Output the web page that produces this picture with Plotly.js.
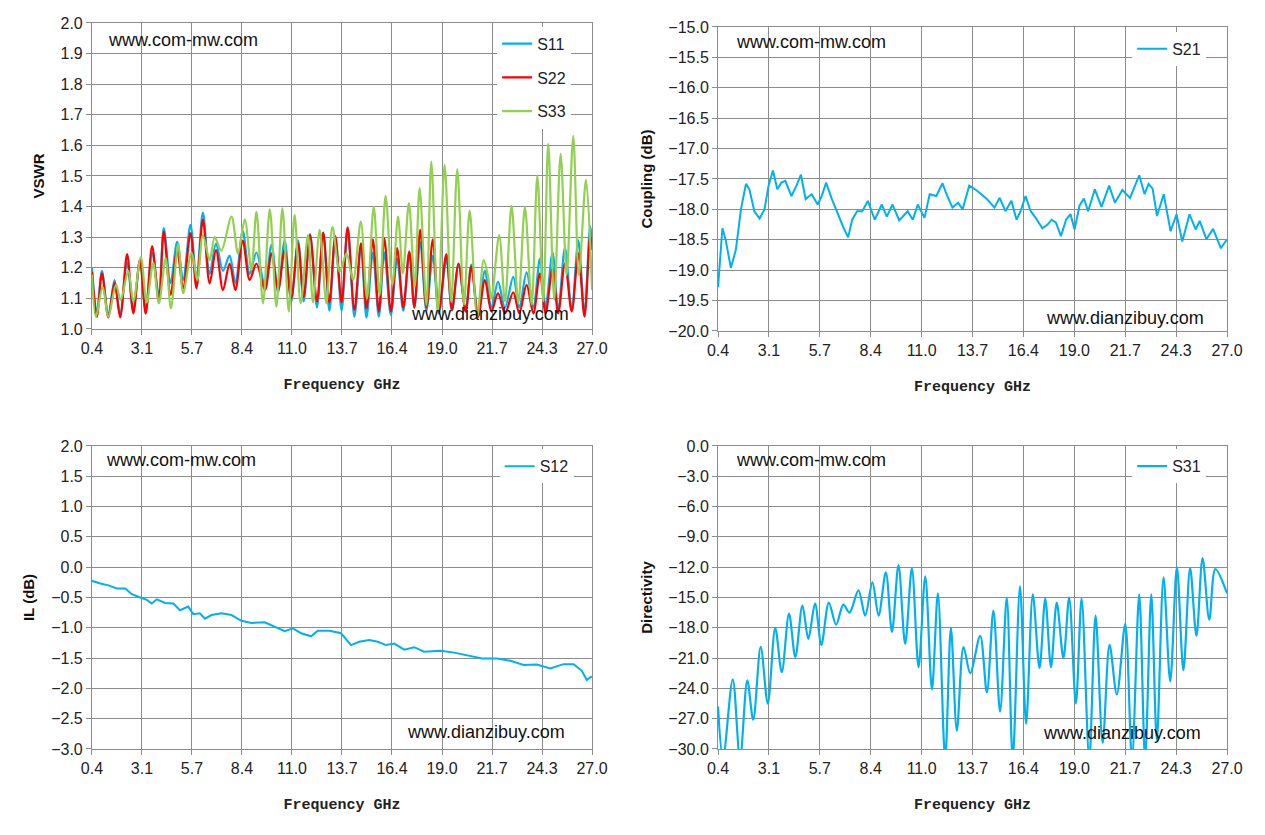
<!DOCTYPE html>
<html>
<head>
<meta charset="utf-8">
<script src="https://cdn.plot.ly/plotly-3.0.1.min.js"></script>
<style>body{margin:0;background:#fff}#chart{width:1265px;height:835px}</style>
</head>
<body>
<div id="chart"></div>
<script>
// ---- data ----
const freqTicks = [0.4, 3.06, 5.72, 8.38, 11.04, 13.7, 16.36, 19.02, 21.68, 24.34, 27.0];
const freqTickText = ['0.4', '3.1', '5.7', '8.4', '11.0', '13.7', '16.4', '19.0', '21.7', '24.3', '27.0'];

// S22 / S11 share the frequency points
const fS22 = [0.4,0.66,0.93,1.27,1.6,1.9,2.27,2.6,2.95,3.26,3.6,3.96,4.22,4.58,4.93,5.25,5.64,5.96,6.3,6.66,7.0,7.37,7.72,8.03,8.42,8.79,9.15,9.6,9.95,10.3,10.65,11.0,11.36,11.66,12.0,12.37,12.7,13.03,13.34,13.68,14.0,14.36,14.71,15.0,15.34,15.66,15.95,16.3,16.63,16.96,17.28,17.55,17.86,18.19,18.53,18.85,19.25,19.55,19.9,20.28,20.58,20.94,21.3,21.65,22.0,22.37,22.81,23.13,23.52,23.88,24.23,24.53,24.9,25.2,25.56,25.92,26.27,26.6,26.9,27.0];
const vS22 = [1.187,1.04,1.182,1.038,1.151,1.038,1.245,1.051,1.225,1.05,1.271,1.09,1.318,1.111,1.258,1.133,1.313,1.133,1.358,1.149,1.258,1.127,1.214,1.127,1.289,1.16,1.214,1.127,1.247,1.127,1.258,1.10,1.28,1.104,1.307,1.09,1.315,1.087,1.304,1.087,1.332,1.062,1.28,1.067,1.293,1.057,1.296,1.057,1.264,1.07,1.253,1.07,1.324,1.07,1.293,1.057,1.245,1.062,1.214,1.057,1.204,1.04,1.16,1.057,1.117,1.051,1.12,1.051,1.144,1.051,1.182,1.051,1.198,1.051,1.214,1.057,1.247,1.04,1.307,1.258];
const vS11 = [1.20,1.05,1.19,1.045,1.16,1.05,1.218,1.06,1.225,1.06,1.25,1.11,1.33,1.15,1.285,1.16,1.34,1.16,1.38,1.18,1.28,1.19,1.24,1.15,1.32,1.18,1.25,1.14,1.275,1.12,1.29,1.09,1.29,1.09,1.31,1.07,1.315,1.06,1.30,1.06,1.33,1.04,1.27,1.037,1.25,1.04,1.25,1.045,1.23,1.06,1.25,1.07,1.285,1.06,1.24,1.05,1.23,1.06,1.21,1.06,1.21,1.05,1.19,1.07,1.155,1.07,1.17,1.07,1.185,1.07,1.23,1.07,1.25,1.06,1.265,1.06,1.29,1.05,1.335,1.29];

const fS33 = [0.4,0.61,0.97,1.27,1.68,1.93,2.33,2.6,3.0,3.31,3.66,3.96,4.32,4.6,4.99,5.25,5.7,6.0,6.3,6.66,6.93,7.28,7.82,8.17,8.53,8.88,9.15,9.5,9.86,10.21,10.53,10.87,11.18,11.5,11.89,12.16,12.51,12.87,13.19,13.58,13.94,14.29,14.7,15.03,15.39,15.7,16.02,16.38,16.68,16.94,17.26,17.57,17.83,18.19,18.45,18.8,19.16,19.51,19.83,20.19,20.49,20.89,21.24,21.47,21.65,22.06,22.37,22.72,23.08,23.43,23.79,24.09,24.41,24.67,24.99,25.33,25.65,26.0,26.3,26.68,27.0];
const vS33 = [1.177,1.04,1.138,1.04,1.144,1.095,1.19,1.09,1.235,1.087,1.216,1.084,1.231,1.067,1.278,1.117,1.25,1.16,1.307,1.225,1.30,1.256,1.367,1.247,1.358,1.193,1.383,1.084,1.391,1.073,1.394,1.057,1.373,1.084,1.307,1.087,1.324,1.084,1.334,1.187,1.247,1.16,1.351,1.10,1.40,1.111,1.435,1.144,1.367,1.182,1.411,1.138,1.46,1.078,1.547,1.057,1.536,1.089,1.522,1.08,1.387,1.04,1.225,1.171,1.10,1.307,1.09,1.402,1.084,1.398,1.08,1.50,1.09,1.605,1.095,1.572,1.176,1.631,1.176,1.487,1.127];

const fS21 = [0.4,0.63,0.8,1.07,1.33,1.6,1.86,2.04,2.3,2.57,2.83,3.04,3.27,3.5,3.71,3.92,4.24,4.5,4.73,4.98,5.29,5.61,5.82,6.05,6.35,6.7,6.97,7.2,7.41,7.67,7.94,8.23,8.59,8.96,9.22,9.52,9.87,10.31,10.58,10.84,11.19,11.46,11.81,12.13,12.34,12.65,12.95,13.18,13.53,13.92,14.45,14.85,15.12,15.42,15.73,16.0,16.21,16.47,16.74,17.0,17.35,17.62,17.83,18.06,18.32,18.59,18.82,19.03,19.29,19.52,19.74,20.09,20.44,20.84,21.14,21.53,21.93,22.41,22.69,22.9,23.11,23.34,23.69,24.05,24.36,24.66,25.04,25.36,25.57,25.92,26.27,26.68,26.98];
const vS21 = [-19.28,-18.31,-18.5,-18.96,-18.67,-18.0,-17.58,-17.67,-18.03,-18.15,-18.0,-17.61,-17.36,-17.67,-17.56,-17.53,-17.78,-17.61,-17.43,-17.83,-17.75,-17.92,-17.78,-17.56,-17.83,-18.11,-18.31,-18.46,-18.17,-18.03,-18.03,-17.86,-18.17,-17.92,-18.12,-17.92,-18.18,-18.03,-18.17,-17.92,-18.14,-17.75,-17.78,-17.57,-17.75,-17.97,-17.89,-18.0,-17.61,-17.69,-17.83,-17.97,-17.81,-18.03,-17.86,-18.17,-18.03,-17.78,-18.03,-18.14,-18.31,-18.25,-18.17,-18.22,-18.44,-18.17,-18.08,-18.33,-17.94,-17.82,-18.03,-17.67,-17.96,-17.61,-17.89,-17.68,-17.81,-17.44,-17.75,-17.58,-17.66,-18.11,-17.75,-18.36,-18.08,-18.53,-18.08,-18.33,-18.19,-18.49,-18.32,-18.64,-18.5];

const fS12 = [0.4,0.84,1.28,1.73,2.17,2.52,2.96,3.32,3.58,3.85,4.29,4.73,5.08,5.52,5.79,6.14,6.41,6.76,7.29,7.82,8.35,8.88,9.59,10.12,10.65,11.09,11.53,12.06,12.41,13.03,13.65,14.18,14.62,15.15,15.6,16.04,16.48,17.01,17.54,18.07,18.96,19.66,20.36,21.16,21.95,22.66,23.36,24.07,24.78,25.49,26.02,26.46,26.72,26.99];
const vS12 = [-0.225,-0.27,-0.30,-0.35,-0.35,-0.445,-0.50,-0.54,-0.60,-0.53,-0.59,-0.60,-0.71,-0.65,-0.775,-0.76,-0.85,-0.79,-0.76,-0.79,-0.885,-0.92,-0.91,-0.985,-1.055,-1.01,-1.09,-1.14,-1.05,-1.05,-1.09,-1.285,-1.23,-1.20,-1.23,-1.285,-1.26,-1.36,-1.32,-1.395,-1.38,-1.41,-1.46,-1.505,-1.505,-1.545,-1.615,-1.605,-1.67,-1.60,-1.60,-1.71,-1.86,-1.80];

const fS31 = [0.4,0.66,1.17,1.55,1.93,2.24,2.63,3.0,3.39,3.73,4.11,4.44,4.81,5.12,5.47,5.8,6.19,6.57,6.95,7.27,7.74,8.09,8.47,8.79,9.17,9.49,9.83,10.18,10.53,10.88,11.23,11.58,11.89,12.27,12.57,12.88,13.23,13.58,14.1,14.45,14.79,15.14,15.49,15.8,16.18,16.5,16.85,17.2,17.5,17.8,18.1,18.45,18.75,19.1,19.4,19.8,20.13,20.5,20.86,21.24,21.68,22.03,22.41,22.72,23.04,23.33,23.68,24.03,24.38,24.72,25.07,25.4,25.72,26.07,26.39,27.0];
const vS31 = [-25.8,-31,-23.1,-31,-23.2,-27.1,-19.9,-25.5,-18.0,-22.4,-16.6,-20.9,-15.8,-19.1,-15.6,-19.7,-15.5,-17.7,-15.7,-16.5,-14.3,-16.8,-13.5,-16.8,-12.5,-18.4,-11.8,-19.6,-12.1,-21.9,-12.9,-24.1,-14.6,-31,-18.0,-28.2,-19.9,-22.5,-18.8,-24.4,-16.3,-26.3,-15.0,-31,-13.9,-27.5,-14.7,-22.0,-15.1,-21.9,-15.5,-21.0,-15.0,-25.5,-15.1,-31,-16.8,-29.4,-19.7,-24.6,-17.6,-31,-14.7,-31,-14.7,-29.1,-13.0,-23.3,-12.0,-22.2,-12.1,-18.8,-11.1,-17.2,-12.2,-14.6];

// ---- styling ----
const blue = '#00B0F0', red = '#FF0000', green = '#92D050';
const gridC = '#8c8c8c';
const tickFont = { family: 'Liberation Sans, Arial, sans-serif', size: 16, color: '#222' };
const freqTitle = { text: 'Frequency GHz', font: { family: 'Liberation Mono, Courier New, monospace', size: 15, color: '#222', weight: 'bold' }, standoff: 22 };

function xAxis(domain, anchor) {
    return {
        domain: domain, anchor: anchor, range: [0.4, 27.0],
        tickmode: 'array', tickvals: freqTicks, ticktext: freqTickText,
        showgrid: true, gridcolor: gridC, gridwidth: 1, zeroline: false,
        showline: true, linecolor: gridC, mirror: true,
        ticks: 'outside', ticklen: 5, tickcolor: gridC,
        tickfont: tickFont, title: freqTitle
    };
}
function yAxis(domain, anchor, range, dtick, title, fmt) {
    return {
        domain: domain, anchor: anchor, range: range, dtick: dtick, tick0: range[0],
        tickformat: fmt, showgrid: true, gridcolor: gridC, gridwidth: 1, zeroline: false,
        showline: true, linecolor: gridC, mirror: true,
        ticks: 'outside', ticklen: 5, tickcolor: gridC, tickfont: tickFont,
        title: { text: title, font: { family: 'Liberation Sans, Arial, sans-serif', size: 15, color: '#111', weight: 'bold' }, standoff: 12 }
    };
}

const line = (x, y, name, color, xa, ya, lg) => ({
    x: x, y: y, name: name, type: 'scatter', mode: 'lines',
    line: { color: color, width: 2.2, shape: 'spline', smoothing: 0.9 },
    xaxis: xa, yaxis: ya, legend: lg, legendgroup: name
});

const traces = [
    line(fS22, vS11, 'S11', blue, 'x', 'y', 'legend'),
    line(fS22, vS22, 'S22', red, 'x', 'y', 'legend'),
    line(fS33, vS33, 'S33', green, 'x', 'y', 'legend'),
    Object.assign(line(fS21, vS21, 'S21', blue, 'x2', 'y2', 'legend2'), { line: { color: blue, width: 2, shape: 'linear' } }),
    Object.assign(line(fS12, vS12, 'S12', blue, 'x3', 'y3', 'legend3'), { line: { color: blue, width: 2, shape: 'linear' } }),
    line(fS31, vS31, 'S31', blue, 'x4', 'y4', 'legend4')
];

const legFont = { family: 'Liberation Sans, Arial, sans-serif', size: 16, color: '#222' };
const leg = (x, y) => ({ x: x, y: y, xanchor: 'left', yanchor: 'top', bgcolor: '#fff', font: legFont, tracegroupgap: 10, itemwidth: 30 });

const wm = (x, y, t) => ({ xref: 'paper', yref: 'paper', x: x, y: y, xanchor: 'left', yanchor: 'middle', text: t, showarrow: false, font: { family: 'Liberation Sans, Arial, sans-serif', size: 18, color: '#111' } });

const xL = [0.0727, 0.468], xR = [0.5676, 0.970];
const yT1 = [0.606, 0.9725], yT2 = [0.6036, 0.9677], yB = [0.103, 0.4659];

const layout = {
    width: 1265, height: 835, margin: { l: 0, r: 0, t: 0, b: 0 },
    paper_bgcolor: '#fff', plot_bgcolor: '#fff', showlegend: true,
    xaxis: xAxis(xL, 'y'), yaxis: yAxis(yT1, 'x', [1.0, 2.0], 0.1, 'VSWR', '.1f'),
    xaxis2: xAxis(xR, 'y2'), yaxis2: yAxis(yT2, 'x2', [-20, -15], 0.5, 'Coupling (dB)', '.1f'),
    xaxis3: xAxis(xL, 'y3'), yaxis3: yAxis(yB, 'x3', [-3, 2], 0.5, 'IL (dB)', '.1f'),
    xaxis4: xAxis(xR, 'y4'), yaxis4: yAxis(yB, 'x4', [-30, 0], 3, 'Directivity', '.1f'),
    legend: leg(0.393, 0.968),
    legend2: leg(0.895, 0.962),
    legend3: leg(0.395, 0.462),
    legend4: leg(0.895, 0.462),
    annotations: [
        wm(0.084, 0.952, 'www.com-mw.com'), wm(0.323, 0.624, 'www.dianzibuy.com'),
        wm(0.580, 0.950, 'www.com-mw.com'), wm(0.825, 0.619, 'www.dianzibuy.com'),
        wm(0.082, 0.449, 'www.com-mw.com'), wm(0.320, 0.123, 'www.dianzibuy.com'),
        wm(0.580, 0.449, 'www.com-mw.com'), wm(0.823, 0.122, 'www.dianzibuy.com')
    ]
};

Plotly.newPlot('chart', traces, layout, { displayModeBar: false, staticPlot: true });
</script>
</body>
</html>
